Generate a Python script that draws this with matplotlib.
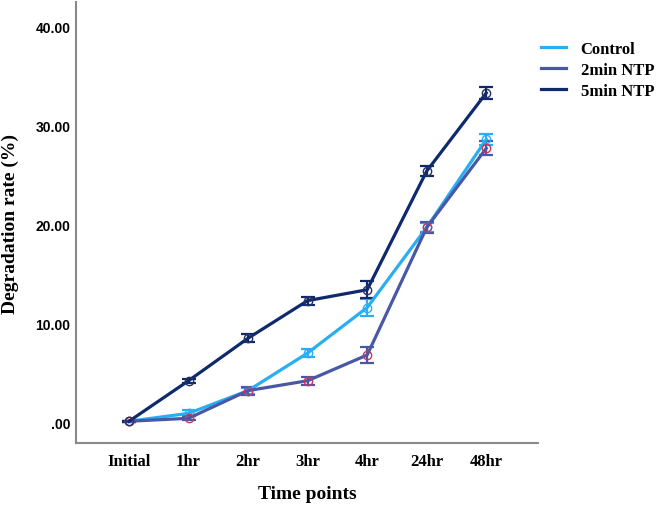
import matplotlib
matplotlib.use('Agg')
import matplotlib.pyplot as plt
import numpy as np

# Dados
time_points = ['Initial', '1hr', '2hr', '3hr', '4hr', '24hr', '48hr']
control = [0.1, 0.9, 3.2, 7.0, 11.6, 19.7, 28.6]
control_err = [0.05, 0.3, 0.3, 0.4, 0.9, 0.5, 0.6]
ntp_2min = [0.1, 0.4, 3.2, 4.2, 6.8, 19.7, 27.7]
ntp_2min_err = [0.05, 0.2, 0.4, 0.4, 0.8, 0.55, 0.7]
ntp_5min = [0.1, 4.2, 8.5, 12.3, 13.4, 25.4, 33.3]
ntp_5min_err = [0.05, 0.2, 0.4, 0.4, 0.85, 0.5, 0.65]
y_ticks = [0, 10, 20, 30, 40]
y_tick_labels = ['.00', '10.00', '20.00', '30.00', '40.00']

series = [
    ('Control', control, control_err, '#2aaef2', '#2aaef2'),
    ('2min NTP', ntp_2min, ntp_2min_err, '#4858a6', '#c8365a'),
    ('5min NTP', ntp_5min, ntp_5min_err, '#0e2a6c', '#2a3260'),
]

fig = plt.figure(figsize=(6.61, 5.10), dpi=100)
ax = fig.add_axes([0.115, 0.1294, 0.699, 0.8647])

x = np.arange(len(time_points))
handles = []
for name, vals, errs, color, edge in series:
    ax.errorbar(x, vals, yerr=errs, color=color, ecolor=color, elinewidth=1.6,
                capsize=5, capthick=1.6, linestyle='none', zorder=2)
    ax.plot(x, vals, color=color, linewidth=2.3, marker='o',
            markersize=6, markerfacecolor='none', markeredgecolor=edge,
            markeredgewidth=1.0, label=name, zorder=3)
    handles.append(plt.Line2D([], [], color=color, linewidth=2.3))

ax.set_xlim(-0.89, 6.87)
ax.set_ylim(-2.1, 42.5)
ax.set_xticks(x)
ax.set_xticklabels(time_points, fontfamily='Liberation Serif', fontweight='bold', fontsize=12)
ax.set_yticks(y_ticks)
ax.set_yticklabels(y_tick_labels, fontfamily='Liberation Sans', fontweight='bold', fontsize=10)
ax.tick_params(axis='x', length=0, pad=7)
ax.tick_params(axis='y', length=0, pad=4)

for s in ['top', 'right']:
    ax.spines[s].set_visible(False)
for s in ['left', 'bottom']:
    ax.spines[s].set_color('#8a8a8a')
    ax.spines[s].set_linewidth(1.5)

ax.set_xlabel('Time points', fontfamily='Liberation Serif', fontweight='bold', fontsize=14, labelpad=12)
ax.set_ylabel('Degradation rate (%)', fontfamily='Liberation Serif', fontweight='bold', fontsize=14, labelpad=12)

fig.legend(handles, [s[0] for s in series], loc='upper left', bbox_to_anchor=(0.818, 0.917),
           frameon=False, prop={'family': 'Liberation Serif', 'weight': 'bold', 'size': 12},
           handlelength=1.5, handletextpad=0.9, labelspacing=0.3, borderpad=0, borderaxespad=0)

plt.savefig('out.png', dpi=100)
plt.close(fig)
